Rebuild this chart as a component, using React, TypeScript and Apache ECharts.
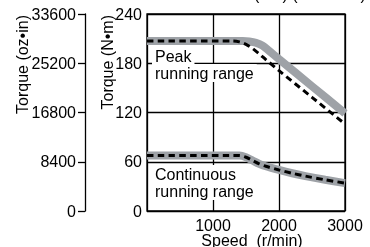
import React, { useEffect, useRef } from "react";
import * as echarts from "echarts";

const speedTicks = [0, 1000, 2000, 3000];
const torqueNmTicks = [0, 60, 120, 180, 240];
const torqueOzInTicks = [0, 8400, 16800, 25200, 33600];

const peakRangeSpeed = [0, 1450, 1550, 1650, 1750, 1850, 2000, 2500, 3000];
const peakRangeTorque = [207, 207, 206.5, 205, 201.5, 195, 185, 152, 119];

const peakDashSpeed = [0, 1300, 1400, 1500, 1600, 1700, 1800, 2000, 2500, 3000];
const peakDashTorque = [207, 207, 206, 203, 198, 191.5, 184.5, 171, 138.5, 106];

const contRangeSpeed = [0, 1400, 1500, 1600, 1700, 1800, 2000, 2200, 2400, 2700, 3000];
const contRangeTorque = [67.5, 67.5, 65.5, 61.5, 57.5, 54.5, 50, 46, 42.5, 38, 34];

const contDashSpeed = [0, 1400, 1500, 1600, 1700, 1800, 2000, 2200, 2400, 2700, 3000];
const contDashTorque = [67.5, 67.5, 65.5, 61.5, 57.5, 54.5, 50, 46, 42.5, 38, 34];

const FONT = '"Liberation Sans", Arial, sans-serif';
const GRAY = "#9ea2a7";

function pairs(xs: number[], ys: number[]) {
  return xs.map((x, i) => [x, ys[i]]);
}

export default function App() {
  const ref = useRef<HTMLDivElement>(null);
  useEffect(() => {
    if (!ref.current) return;
    const chart = echarts.init(ref.current, undefined, { renderer: "svg" });
    const label = (t: string, x: number, y: number) => ({
      type: "text",
      x,
      y,
      z: 1,
      style: {
        text: t,
        font: `16px ${FONT}`,
        fill: "#000",
        backgroundColor: "#fff",
        padding: [1, 3, 1, 3],
        verticalAlign: "top",
      },
    });
    const lineSeries = (xs: number[], ys: number[], style: any, z: number) => ({
      type: "line",
      data: pairs(xs, ys),
      smooth: 0.3,
      symbol: "none",
      lineStyle: style,
      z,
    });
    chart.setOption({
      animation: false,
      grid: {
        left: 147,
        right: 25,
        top: 14,
        bottom: 36,
        show: true,
        borderColor: "#000",
        borderWidth: 1.3,
        backgroundColor: "transparent",
      },
      xAxis: {
        type: "value",
        min: speedTicks[0],
        max: speedTicks[speedTicks.length - 1],
        interval: 1000,
        axisLine: { show: false },
        axisTick: { show: false },
        splitLine: { show: true, lineStyle: { color: "#000", width: 1.3 } },
        axisLabel: {
          fontFamily: FONT,
          fontSize: 16,
          lineHeight: 13,
          color: "#000",
          margin: 8,
          formatter: (v: number) => (v === 0 ? "" : String(v)),
        },
      },
      yAxis: [
        {
          type: "value",
          position: "left",
          min: torqueNmTicks[0],
          max: torqueNmTicks[torqueNmTicks.length - 1],
          interval: 60,
          axisLine: { show: false },
          axisTick: { show: false },
          splitLine: { show: true, lineStyle: { color: "#000", width: 1.3 } },
          axisLabel: { fontFamily: FONT, fontSize: 16, color: "#000", margin: 5, formatter: (v: number) => String(v) },
        },
        {
          type: "value",
          position: "left",
          offset: 62,
          min: torqueOzInTicks[0],
          max: torqueOzInTicks[torqueOzInTicks.length - 1],
          interval: 8400,
          axisLine: { show: true, onZero: false, lineStyle: { color: "#000", width: 1.3 } },
          axisTick: { show: true, inside: false, length: 7, lineStyle: { color: "#000", width: 1.3 } },
          splitLine: { show: false },
          axisLabel: { fontFamily: FONT, fontSize: 16, color: "#000", margin: 9, formatter: (v: number) => String(v) },
        },
      ],
      graphic: [
        label("Peak", 152, 47),
        label("running range", 152, 64),
        label("Continuous", 152, 165),
        label("running range", 152, 182),
        {
          type: "text",
          x: 22,
          y: 15,
          rotation: Math.PI / 2,
          style: {
            text: "Torque (oz•in)",
            font: `16px ${FONT}`,
            fill: "#000",
            align: "right",
            verticalAlign: "middle",
          },
        },
        {
          type: "text",
          x: 107,
          y: 15,
          rotation: Math.PI / 2,
          style: {
            text: "Torque (N•m)",
            font: `16px ${FONT}`,
            fill: "#000",
            align: "right",
            verticalAlign: "middle",
          },
        },
        {
          type: "text",
          x: 252,
          y: 240.5,
          style: {
            text: "Speed  (r/min)",
            font: `16px ${FONT}`,
            lineHeight: 13,
            fill: "#000",
            align: "center",
            verticalAlign: "middle",
          },
        },
        {
          type: "text",
          x: 254,
          y: -14,
          style: {
            text: "(kW) (200 VAC)",
            font: `16px ${FONT}`,
            fill: "#000",
            align: "left",
            verticalAlign: "top",
          },
        },
      ],
      series: [
        lineSeries(peakRangeSpeed, peakRangeTorque, { color: GRAY, width: 8, cap: "butt" }, 3),
        lineSeries(contRangeSpeed, contRangeTorque, { color: GRAY, width: 8, cap: "butt" }, 3),
        lineSeries(peakDashSpeed, peakDashTorque, { color: "#000", width: 3, type: [6.5, 4.3], cap: "butt" }, 4),
        lineSeries(contDashSpeed, contDashTorque, { color: "#000", width: 3, type: [6.5, 4.3], cap: "butt" }, 4),
      ],
    });
    return () => chart.dispose();
  }, []);
  return (
    <div
      ref={ref}
      style={{ position: "fixed", left: 0, top: 0, width: 370, height: 247 }}
    />
  );
}
